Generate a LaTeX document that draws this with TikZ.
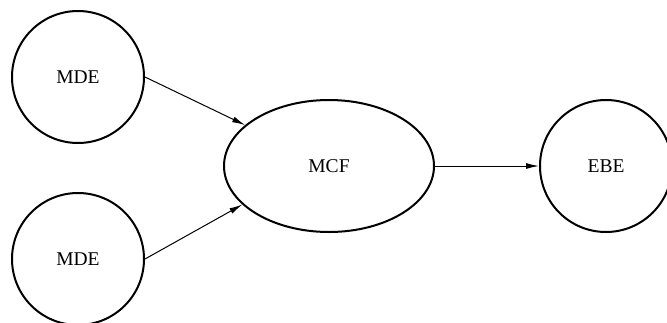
\documentclass[tikz,border=0pt]{standalone}
\usepackage{fontspec}
\setmainfont{Liberation Serif}
\usetikzlibrary{shapes.geometric,arrows.meta}
\begin{document}
\begin{tikzpicture}[x=1pt,y=-1pt,
  state/.style={draw,line width=2pt,inner sep=0pt,font=\fontsize{19.5}{22}\selectfont},
  round/.style={state,circle,minimum size=132pt},
  oval/.style={state,ellipse,minimum width=210pt,minimum height=132pt},
  flow/.style={line width=1pt,-{Latex[length=13pt,width=6pt]}}]
  \useasboundingbox (0,0) rectangle (667,322);
  \node[round] (mde1) at (78,77) {MDE};
  \node[round] (mde2) at (78,259) {MDE};
  \node[oval] (mcf) at (329,166) {MCF};
  \node[round] (ebe) at (606,166) {EBE};
  \draw[flow] (mde1.east) -- (mcf.154);
  \draw[flow] (mde2.east) -- (mcf.204);
  \draw[flow] (mcf) -- (ebe);
\end{tikzpicture}
\end{document}
